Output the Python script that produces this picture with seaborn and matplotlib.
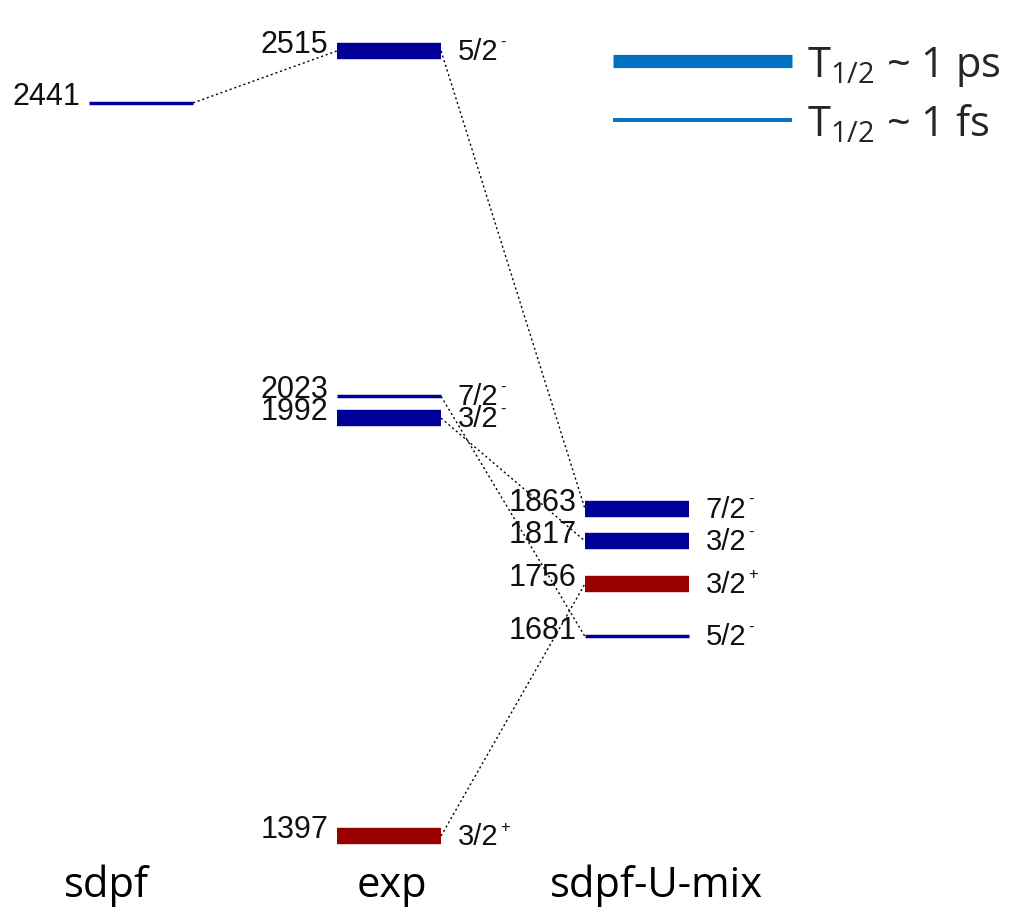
import matplotlib
matplotlib.use("Agg")
import matplotlib.pyplot as plt
from matplotlib.lines import Line2D
import numpy as np
import pandas as pd
import seaborn as sns

# Level schemes (energies in keV)
columns = ["sdpf", "exp", "sdpf-U-mix"]

sdpf_energy = [2441]
sdpf_spin = [""]
sdpf_parity = ["-"]
sdpf_halflife = ["fs"]

exp_energy = [2515, 2023, 1992, 1397]
exp_spin = ["5/2", "7/2", "3/2", "3/2"]
exp_parity = ["-", "-", "-", "+"]
exp_halflife = ["ps", "fs", "ps", "ps"]

mix_energy = [1863, 1817, 1756, 1681]
mix_spin = ["7/2", "3/2", "3/2", "5/2"]
mix_parity = ["-", "-", "+", "-"]
mix_halflife = ["ps", "ps", "ps", "fs"]

# Correspondence links between levels: (column, energy) -> (column, energy)
links_from = [(0, 2441), (1, 2515), (1, 2023), (1, 1992), (1, 1397)]
links_to = [(1, 2515), (2, 1863), (2, 1681), (2, 1817), (2, 1756)]

legend_labels = [r"T$_{1/2}$ ~ 1 ps", r"T$_{1/2}$ ~ 1 fs"]

sns.set_theme(style="white")
plt.rcParams["font.family"] = ["Liberation Sans", "DejaVu Sans"]
plt.rcParams["mathtext.fontset"] = "custom"
plt.rcParams["mathtext.rm"] = "Open Sans"
plt.rcParams["mathtext.it"] = "Open Sans:italic"
plt.rcParams["mathtext.default"] = "regular"
plt.rcParams["lines.solid_capstyle"] = "butt"

HALF = 0.21
parity_colors = {"-": "#000099", "+": "#990000"}
halflife_widths = {"ps": 11.8, "fs": 2.5}

rows = []
for col, (en, sp, pa, hl) in enumerate([
    (sdpf_energy, sdpf_spin, sdpf_parity, sdpf_halflife),
    (exp_energy, exp_spin, exp_parity, exp_halflife),
    (mix_energy, mix_spin, mix_parity, mix_halflife),
]):
    for e, s, p, h in zip(en, sp, pa, hl):
        rows.append(dict(col=col, energy=e, spin=s, parity=p, halflife=h))
levels = pd.DataFrame(rows)
levels["level"] = np.arange(len(levels))

# each level as a short horizontal segment
seg = pd.concat([
    levels.assign(x=levels["col"] - HALF),
    levels.assign(x=levels["col"] + HALF),
])

fig = plt.figure(figsize=(10.15, 9.12), dpi=100)
ax = fig.add_axes([0, 0, 1, 1])

# dotted links
link_rows = []
for i, ((c0, e0), (c1, e1)) in enumerate(zip(links_from, links_to)):
    link_rows.append(dict(link=i, x=c0 + HALF, y=e0))
    link_rows.append(dict(link=i, x=c1 - HALF, y=e1))
links = pd.DataFrame(link_rows)
sns.lineplot(data=links, x="x", y="y", units="link", estimator=None, sort=False,
             color="black", linestyle=(0, (1.5, 2.0)), linewidth=1.0, ax=ax,
             legend=False)

sns.lineplot(data=seg, x="x", y="energy", units="level", estimator=None,
             sort=False, hue="parity", palette=parity_colors,
             size="halflife", sizes=halflife_widths, ax=ax, legend=False)

ax.set_xlim(-0.5685, 3.524)
ax.set_ylim(1290, 2589)
ax.set_axis_off()

for _, r in levels.iterrows():
    ax.annotate(str(r["energy"]), xy=(r["col"] - HALF, r["energy"]),
                xytext=(-6, 5), textcoords="offset points",
                ha="right", va="center", fontsize=22, color="#111111")
    if r["spin"]:
        t = ax.annotate(r["spin"], xy=(r["col"] + HALF, r["energy"]),
                        xytext=(12, 0), textcoords="offset points",
                        ha="left", va="center", fontsize=21, color="#111111")
        ax.annotate(r["parity"], xy=(1.0, 1.12), xycoords=t,
                    xytext=(1, 0), textcoords="offset points",
                    ha="left", va="top", fontsize=12, color="#111111")

# column titles
title_x = [-0.14, 1.01, 2.08]
for x, name in zip(title_x, columns):
    ax.text(x, 1311, name, ha="center", va="baseline", fontsize=30,
            family="Open Sans", color="black")

handles = [Line2D([], [], color="#0070C0", linewidth=9.5),
           Line2D([], [], color="#0070C0", linewidth=2.8)]
leg = ax.legend(handles, legend_labels, loc="upper left",
                bbox_to_anchor=(613 / 1015, 1 - 45 / 912),
                frameon=False, prop=dict(family="Open Sans", size=30),
                handlelength=4.3, handletextpad=0.36, labelspacing=0.33,
                borderpad=0, borderaxespad=0)

fig.savefig("out.png", dpi=100, facecolor="white")
